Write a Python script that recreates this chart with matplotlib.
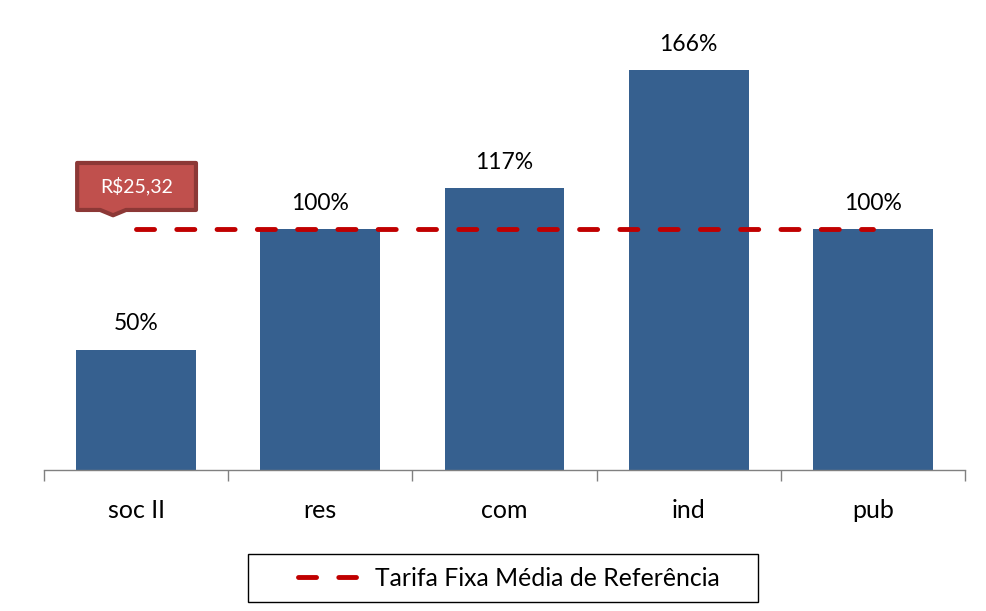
import matplotlib
matplotlib.use("Agg")
import matplotlib.pyplot as plt
from matplotlib.patches import Polygon, Rectangle

categories = ["soc II", "res", "com", "ind", "pub"]
values = [0.50, 1.00, 1.17, 1.66, 1.00]
labels = ["50%", "100%", "117%", "166%", "100%"]
ref_value = 1.00
ref_label = "R$25,32"
legend_label = "Tarifa Fixa Média de Referência"

plt.rcParams['font.family'] = ['Lato', 'DejaVu Sans']
plt.rcParams['lines.scale_dashes'] = False

W, H = 987, 611
fig = plt.figure(figsize=(W / 100, H / 100), dpi=100)
ax_l, ax_r, ax_b, ax_t = 44, 965, 470, 30
ax = fig.add_axes([ax_l / W, 1 - ax_b / H, (ax_r - ax_l) / W, (ax_b - ax_t) / H])

bar_color = "#36608F"
x = list(range(len(categories)))
bars = ax.bar(x, values, width=0.65, color=bar_color, zorder=2)
for xi, v, lab in zip(x, values, labels):
    ax.annotate(lab, (xi, v), xytext=(0, 11), textcoords="offset points",
                ha="center", va="bottom", fontsize=16.5, color="black")

line, = ax.plot([x[0], x[-1]], [ref_value, ref_value], color="#C00000", lw=3.5,
                dash_capstyle="round", zorder=3, label=legend_label)
line.set_dashes([13, 16])

ax.set_xlim(-0.5, len(categories) - 0.5)
ax.set_ylim(0, (ax_b - ax_t) / 241)
for s in ["top", "right", "left"]:
    ax.spines[s].set_visible(False)
ax.spines["bottom"].set_color("#808080")
ax.spines["bottom"].set_linewidth(1)
ax.set_yticks([])
ax.set_xticks([i - 0.5 for i in range(len(categories) + 1)], minor=False)
ax.set_xticklabels([])
ax.set_xticks(x, minor=True)
ax.set_xticklabels(categories, minor=True, fontsize=18)
ax.tick_params(axis="x", which="major", length=8, color="#808080", width=1, direction="out")
ax.tick_params(axis="x", which="minor", length=0, pad=21)

# callout for reference value
x0, x1 = -0.32, 0.325
y0, y1 = ref_value + 0.079, ref_value + 0.274
px0, px1, ptip = -0.195, -0.055, -0.125
ytip = ref_value + 0.057
poly = Polygon([(x0, y0), (px0, y0), (ptip, ytip), (px1, y0), (x1, y0), (x1, y1), (x0, y1)],
               closed=True, facecolor="#C0504D", edgecolor="#8C3836", lw=3,
               joinstyle="round", zorder=4, clip_on=False)
ax.add_patch(poly)
ax.text((x0 + x1) / 2, (y0 + y1) / 2, ref_label.replace("$", r"\$"), ha="center", va="center",
        fontsize=14, color="white", zorder=5)

# legend (frame drawn separately to match the wide padding)
fig.patches.append(Rectangle((248 / W, 1 - 602 / H), 510 / W, 48 / H, transform=fig.transFigure,
                             facecolor="white", edgecolor="black", lw=1, zorder=1))
leg = fig.legend(handles=[line], loc="center left", bbox_to_anchor=(298 / W, 1 - 578 / H),
                 frameon=False, fontsize=17.8, handlelength=2.35, borderpad=0,
                 handletextpad=0.75, borderaxespad=0)
leg.set_zorder(2)

fig.savefig("out.png", dpi=100)
